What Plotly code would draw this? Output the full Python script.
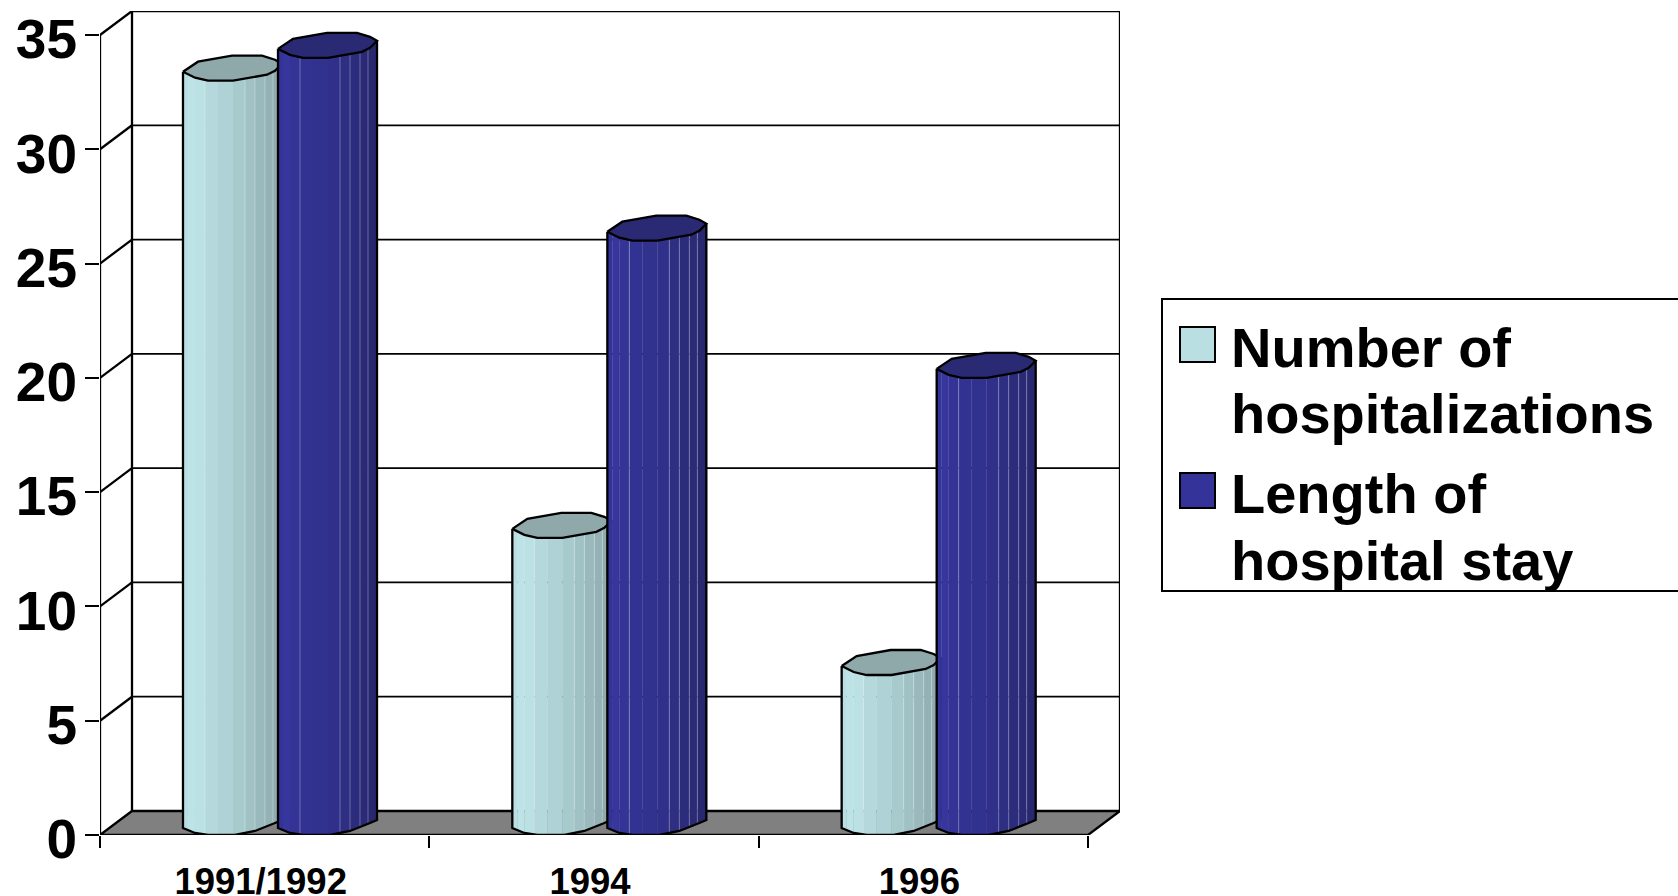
import numpy as np
import plotly.graph_objects as go

# --- DATA ---
CATEGORIES = ["1991/1992", "1994", "1996"]
HOSPITALIZATIONS = [33, 13, 7]
LENGTH_OF_STAY = [34, 26, 20]
Y_TICKS = [0, 5, 10, 15, 20, 25, 30, 35]
LEGEND_LINES = [["Number of", "hospitalizations"], ["Length of", "hospital stay"]]

# --- GEOMETRY (pixels on the 1678x896 page) ---
LEFT, RIGHT, TOP, BOTTOM = 100, 1120, 11, 835
PX_X = 329.3   # one category
PX_Y = 800 / 35  # one y unit
DEPTH_X = 32 / PX_X
DEPTH_Y = 24 / PX_Y
BAR_PX = 99
OFFSETS = [0.252, 0.5405]

# cylinder outline, a tilted polygon: (across, up) in pixels
CAP_FRONT = [(0, 9), (12, 3), (25, 0), (50, 0), (84, 6), (92, 10), (99, 17)]
CAP_BACK = [(92, 21), (79, 25), (49, 25), (15, 19)]
BASE_FRONT = [(0, 7), (12, 2), (25, 0), (52, 0), (72, 4), (92, 12), (99, 15)]

STRIP_STOPS = [0, 5, 12, 22, 35, 50, 62, 72, 82, 90, 99]
LIGHT_STRIPS = ["#B9DFE3", "#BDE3E6", "#BBE1E4", "#B4D8DB", "#AED2D5", "#A7CACD", "#A0C2C5", "#99B9BC", "#94B2B5", "#8FABAE"]
DARK_STRIPS = ["#333399", "#36369C", "#343497", "#323292", "#31318E", "#30308A", "#2E2E83", "#2C2C7D", "#2A2A77", "#282871"]
LIGHT_CAP, DARK_CAP = "#8FA9AB", "#2A2A74"
HIGHLIGHTS = [22, 62, 72, 82, 90]

FONT = "Liberation Sans"
LINE = dict(color="black", width=2.3)
GRID = dict(color="black", width=1.8)


def cap_edge(u):
    return np.interp(u, [p[0] for p in CAP_FRONT], [p[1] for p in CAP_FRONT])


def base_edge(u):
    return np.interp(u, [p[0] for p in BASE_FRONT], [p[1] for p in BASE_FRONT])


def add_line(fig, x, y, line=LINE, **kw):
    fig.add_trace(go.Scatter(x=x, y=y, mode="lines", line=line, showlegend=False,
                             hoverinfo="skip", cliponaxis=False, **kw))


def add_cylinder(fig, left, value, strips, cap_color, name):
    for i, color in enumerate(strips):
        a, b = STRIP_STOPS[i], STRIP_STOPS[i + 1]
        inner = sorted({p[0] for p in BASE_FRONT + CAP_FRONT if a < p[0] < b})
        us = [a] + inner + [b]
        xs = [left + u / PX_X for u in us]
        lows = [base_edge(u) / PX_Y for u in us]
        highs = [value + cap_edge(u) / PX_Y for u in us]
        fig.add_trace(go.Scatter(
            x=xs + xs[::-1], y=lows + highs[::-1], mode="lines", fill="toself",
            fillcolor=color, line=dict(color=color, width=0.5), name=name,
            showlegend=False, hoverinfo="skip", cliponaxis=False))

    for u in HIGHLIGHTS:
        add_line(fig, [left + u / PX_X] * 2, [base_edge(u) / PX_Y, value + cap_edge(u) / PX_Y],
                 line=dict(color="rgba(255,255,255,0.3)", width=1))

    # outline of the body
    xs = [left] + [left + p[0] / PX_X for p in BASE_FRONT] + [left + BAR_PX / PX_X]
    ys = [value + cap_edge(0) / PX_Y] + [p[1] / PX_Y for p in BASE_FRONT] + [value + cap_edge(BAR_PX) / PX_Y]
    add_line(fig, xs, ys)

    # top of the cylinder
    ring = CAP_FRONT + CAP_BACK + CAP_FRONT[:1]
    fig.add_trace(go.Scatter(
        x=[left + p[0] / PX_X for p in ring], y=[value + p[1] / PX_Y for p in ring],
        mode="lines", fill="toself", fillcolor=cap_color, line=LINE,
        showlegend=False, hoverinfo="skip", cliponaxis=False))


fig = go.Figure()

# floor
add_line(fig, [0, 3, 3 + DEPTH_X, DEPTH_X, 0], [0, 0, DEPTH_Y, DEPTH_Y, 0], fill="toself", fillcolor="#808080")

# back wall, side wall and front axis line
for tick in Y_TICKS[1:]:
    add_line(fig, [DEPTH_X, 3 + DEPTH_X], [tick + DEPTH_Y] * 2, line=GRID if tick < 35 else LINE)
    add_line(fig, [0, DEPTH_X], [tick, tick + DEPTH_Y])
add_line(fig, [DEPTH_X, DEPTH_X], [DEPTH_Y, 35 + DEPTH_Y])
add_line(fig, [3 + DEPTH_X, 3 + DEPTH_X], [DEPTH_Y, 35 + DEPTH_Y])
add_line(fig, [0, 0], [0, 35])

for i, cat in enumerate(CATEGORIES):
    add_cylinder(fig, i + OFFSETS[0], HOSPITALIZATIONS[i], LIGHT_STRIPS, LIGHT_CAP, "Number of hospitalizations")
    add_cylinder(fig, i + OFFSETS[1], LENGTH_OF_STAY[i], DARK_STRIPS, DARK_CAP, "Length of hospital stay")


def px(x):
    return (x - LEFT) / (RIGHT - LEFT)


def py(y):
    return (BOTTOM - y) / (BOTTOM - TOP)


# legend, built by hand because the line spacing is tighter than plotly's
shapes = [dict(type="rect", xref="paper", yref="paper", x0=px(1162), x1=px(1720), y0=py(591), y1=py(299),
               line=dict(color="black", width=2), fillcolor="white")]
annotations = []
swatch_tops = [327, 473]
swatch_colors = ["#B9DFE3", "#333399"]
baselines = [[368, 434], [514, 581]]
for top, color, lines, bases in zip(swatch_tops, swatch_colors, LEGEND_LINES, baselines):
    shapes.append(dict(type="rect", xref="paper", yref="paper", x0=px(1180), x1=px(1215), y0=py(top + 35), y1=py(top),
                       line=dict(color="black", width=2), fillcolor=color))
    for text, base in zip(lines, bases):
        annotations.append(dict(
            text=text, xref="paper", yref="paper", x=px(1230), y=py(base + 12), xanchor="left", yanchor="bottom",
            showarrow=False, align="left", borderpad=0,
            font=dict(family=FONT, size=56, color="black", weight=700)))

fig.update_layout(
    width=1678, height=896, autosize=False,
    margin=dict(l=LEFT, r=1678 - RIGHT, t=TOP, b=896 - BOTTOM),
    plot_bgcolor="white", paper_bgcolor="white",
    showlegend=False, shapes=shapes, annotations=annotations,
)
fig.update_xaxes(
    range=[0, 3 + DEPTH_X], showgrid=False, zeroline=False, showline=False, automargin=False,
    tickmode="array", tickvals=[0.5, 1.5, 2.5], ticktext=CATEGORIES, ticks="",
    ticklabelstandoff=21, ticklabelshift=-4,
    tickfont=dict(family=FONT, size=36.5, color="black", weight=700),
    minor=dict(tickmode="array", tickvals=[0, 1, 2, 3], ticks="outside", ticklen=12, tickwidth=2, tickcolor="black", showgrid=False),
)
fig.update_yaxes(
    range=[0, 35 + DEPTH_Y], showgrid=False, zeroline=False, showline=False, automargin=False,
    tickmode="array", tickvals=Y_TICKS, ticks="outside", ticklen=14, tickwidth=2, tickcolor="black",
    ticklabelstandoff=-3, ticklabelshift=4,
    tickfont=dict(family=FONT, size=55, color="black", weight=700),
)

fig.write_html("out.html", config={"displayModeBar": False}, post_script="document.body.style.margin = '0';")
